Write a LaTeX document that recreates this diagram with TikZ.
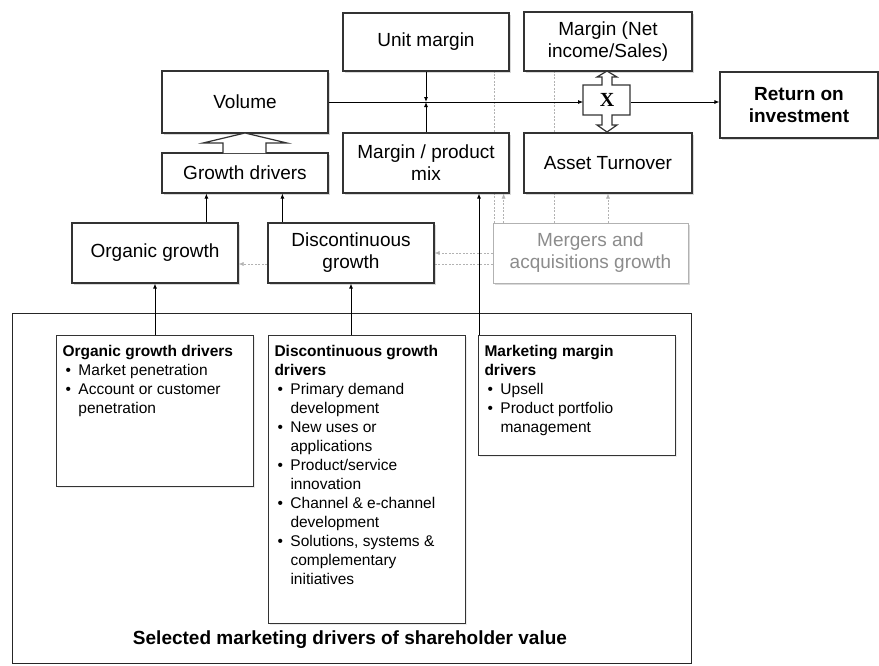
\documentclass[tikz,border=0pt]{standalone}
\usepackage{fontspec}
\setmainfont{Liberation Sans}
\newfontfamily\timesfont{Liberation Serif}
\usetikzlibrary{arrows.meta,shadows,backgrounds}

\newcommand{\boxfont}{\fontsize{19}{22}\selectfont}
\newcommand{\drvfont}{\fontsize{15.5}{19}\selectfont}
\newcommand{\drvitem}{\par\hangindent=16pt\hangafter=1\noindent\makebox[16pt][l]{\hspace{3pt}\textbullet}}

\tikzset{
	mainbox/.style={draw=black!80, line width=1.2pt, fill=white, align=center, font=\boxfont,
		inner sep=2pt, drop shadow={opacity=0.3, shadow xshift=1.5pt, shadow yshift=-1.5pt}},
	drvbox/.style={draw=black!80, line width=1pt, fill=white, anchor=north west,
		inner xsep=6pt, inner ysep=10pt, font=\drvfont,
		drop shadow={opacity=0.15, shadow xshift=1.5pt, shadow yshift=-1.5pt}},
	mnaline/.style={draw=black!30, line width=.6pt, dash pattern=on 2pt off 1.5pt},
}

\begin{document}
\begin{tikzpicture}[x=1pt, y=-1pt, >={Latex[length=5pt,width=4pt]}, line width=.8pt]
	\useasboundingbox (0,0) rectangle (879,665);

	% outer frame
	\node[draw=black!85, line width=.8pt, minimum width=679, minimum height=350] (outerbox) at (351.5,488) {};
	\node[font=\fontsize{19}{22}\selectfont\bfseries] (title) at (350,640) {Selected marketing drivers of shareholder value};

	% top row
	\node[mainbox, minimum width=166, minimum height=58] (unitmargin) at (426,42) {Unit margin};
	\node[mainbox, minimum width=168, minimum height=59] (marginnet) at (608,41.5) {Margin (Net\\income/Sales)};
	\node[mainbox, minimum width=166, minimum height=62] (volume) at (245,102) {Volume};
	\node[mainbox, minimum width=166, minimum height=60] (prodmix) at (426,163) {Margin / product\\mix};
	\node[mainbox, minimum width=168, minimum height=60] (asset) at (608,163) {Asset Turnover};
	\node[mainbox, minimum width=158, minimum height=66, font=\boxfont\bfseries] (roi) at (799,105) {Return on\\investment};
	\node[mainbox, minimum width=166, minimum height=40] (growthdrv) at (245,173) {Growth drivers};

	% growth boxes
	\node[mainbox, minimum width=166, minimum height=60] (orggrowth) at (155,253) {Organic growth};
	\node[mainbox, minimum width=166, minimum height=60] (discgrowth) at (351,253) {Discontinuous\\growth};
	\node[mainbox, minimum width=195, minimum height=60, draw=black!30, text=black!45, line width=.8pt, drop shadow={opacity=0}] (mna) at (590.5,253) {Mergers and\\acquisitions growth};

	% multiply sign
	\draw[draw=black!80, line width=1.2pt, fill=white]
		(583,85) -- (602,85) -- (602,77) -- (597,77) -- (607,71) -- (617,77) -- (612,77) -- (612,85)
		-- (630,85) -- (630,115) -- (612,115) -- (612,125) -- (617,125) -- (607,132) -- (597,125)
		-- (602,125) -- (602,115) -- (583,115) -- cycle;
	\node[font=\fontsize{20}{22}\selectfont\timesfont\bfseries, minimum width=47, minimum height=30] (times) at (607,100) {X};

	% growth drivers into volume
	\draw[draw=black!80, line width=1.2pt, fill=white]
		(223,153) -- (223,143) -- (203,143) -- (245,133) -- (287,143) -- (266,143) -- (266,153);

	% driver boxes
	\node[drvbox] (orgdrv) at (56,335) {\parbox[t][131pt][t]{185pt}{\raggedright
		\textbf{Organic growth drivers}
		\drvitem Market penetration
		\drvitem Account or customer\newline penetration}};
	\node[drvbox] (discdrv) at (268,335) {\parbox[t][268pt][t]{185pt}{\raggedright
		\textbf{Discontinuous growth\\drivers}
		\drvitem Primary demand\newline development
		\drvitem New uses or\newline applications
		\drvitem Product/service\newline innovation
		\drvitem Channel \& e-channel\newline development
		\drvitem Solutions, systems \&\newline complementary\newline initiatives}};
	\node[drvbox] (mktdrv) at (478,335) {\parbox[t][100pt][t]{185pt}{\raggedright
		\textbf{Marketing margin\\drivers}
		\drvitem Upsell
		\drvitem Product portfolio\newline management}};

	% connectors
	\coordinate (cross) at (426,102);
	\draw[->] (unitmargin) -- (cross);
	\draw[->] (prodmix) -- (cross);
	\draw[->] (volume.east) -- (volume.east -| times.west);
	\draw[->] (times.east |- volume.east) -- (roi.west |- volume.east);
	\draw[->] ([xshift=45pt]growthdrv.south west |- orggrowth.north) -- ([xshift=45pt]growthdrv.south west);
	\draw[->] ([xshift=15pt]discgrowth.north west) -- ([xshift=15pt]discgrowth.north west |- growthdrv.south);
	\draw[->] (orggrowth.south |- orgdrv.north) -- (orggrowth.south);
	\draw[->] (discgrowth.south |- discdrv.north) -- (discgrowth.south);
	\draw[->] ([xshift=1pt]mktdrv.north west) -- ([xshift=1pt]mktdrv.north west |- prodmix.south);

	% mergers and acquisitions (grey)
	\begin{pgfonlayer}{background}
		\draw[mnaline] ([xshift=1.5pt]mna.north west) -- ([xshift=1.5pt]mna.north west |- unitmargin.south);
		\draw[mnaline,->] ([xshift=11pt]mna.north west) -- ([xshift=11pt]mna.north west |- prodmix.south);
		\draw[mnaline] ([xshift=62pt]mna.north west) -- ([xshift=62pt]mna.north west |- marginnet.south);
		\draw[mnaline,->] (mna.north -| asset.south) -- (asset.south);
		\draw[mnaline,->] (mna.west) -- (mna.west -| discgrowth.east);
		\draw[mnaline] ([yshift=-11pt]mna.west) -- ([yshift=-11pt]mna.west -| discgrowth.east);
		\draw[mnaline,->] ([yshift=-11pt]discgrowth.west) -- ([yshift=-11pt]discgrowth.west -| orggrowth.east);
	\end{pgfonlayer}
\end{tikzpicture}
\end{document}
